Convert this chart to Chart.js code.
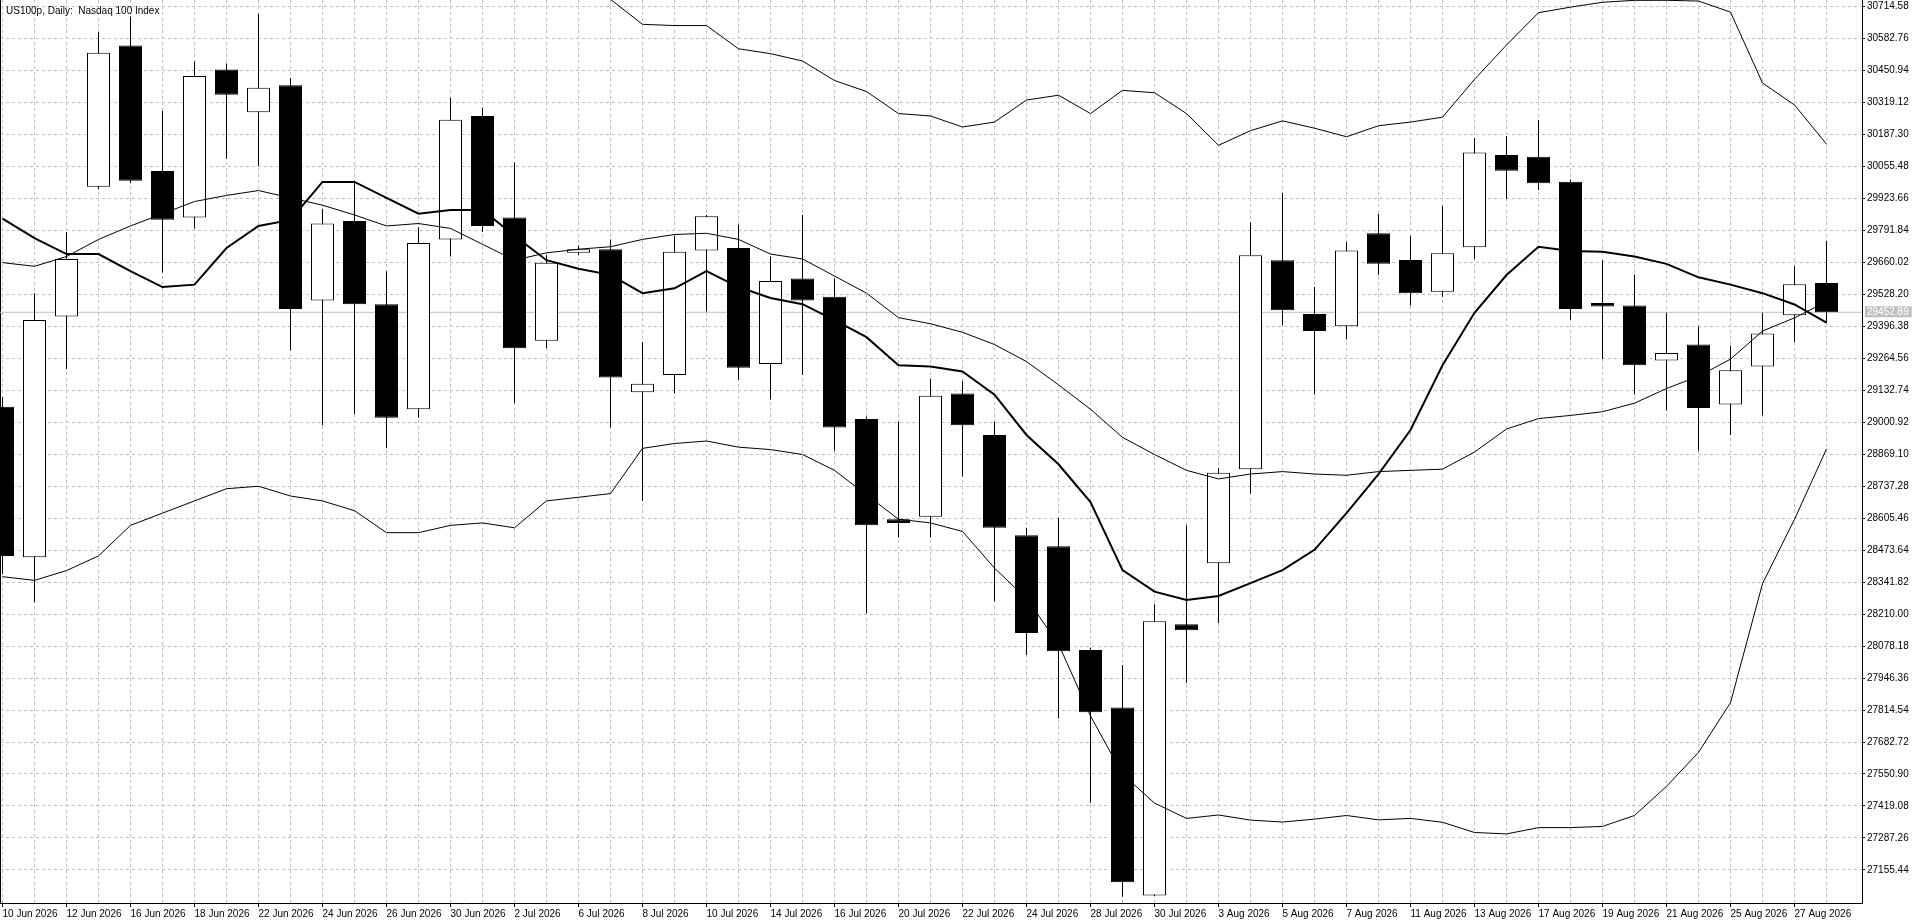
<!DOCTYPE html>
<html><head><meta charset="utf-8">
<script src="https://cdn.jsdelivr.net/npm/chart.js@4.4.1/dist/chart.umd.min.js"></script>
<style>
html,body{margin:0;padding:0;background:#fff;overflow:hidden;}
#wrap{position:relative;width:1920px;height:923px;}
#title{position:absolute;left:6px;top:4px;font:10px 'Liberation Sans',Arial,sans-serif;color:#000;white-space:pre;line-height:13px;}
canvas{display:block;}
</style></head><body>
<div id="wrap"><canvas id="c" width="1920" height="923"></canvas><div id="title">US100p, Daily:  Nasdaq 100 Index</div></div>
<script>
const dates = ["10 Jun 2026","11 Jun 2026","12 Jun 2026","15 Jun 2026","16 Jun 2026","17 Jun 2026","18 Jun 2026","19 Jun 2026","22 Jun 2026","23 Jun 2026",
"24 Jun 2026","25 Jun 2026","26 Jun 2026","29 Jun 2026","30 Jun 2026","1 Jul 2026","2 Jul 2026","3 Jul 2026","6 Jul 2026","7 Jul 2026",
"8 Jul 2026","9 Jul 2026","10 Jul 2026","13 Jul 2026","14 Jul 2026","15 Jul 2026","16 Jul 2026","17 Jul 2026","20 Jul 2026","21 Jul 2026",
"22 Jul 2026","23 Jul 2026","24 Jul 2026","27 Jul 2026","28 Jul 2026","29 Jul 2026","30 Jul 2026","31 Jul 2026","3 Aug 2026","4 Aug 2026",
"5 Aug 2026","6 Aug 2026","7 Aug 2026","10 Aug 2026","11 Aug 2026","12 Aug 2026","13 Aug 2026","14 Aug 2026","17 Aug 2026","18 Aug 2026",
"19 Aug 2026","20 Aug 2026","21 Aug 2026","24 Aug 2026","25 Aug 2026","26 Aug 2026","27 Aug 2026","28 Aug 2026"];

const open = [29063.4,28444.2,29435.9,29969.5,30551.5,30035.0,29843.7,30453.3,30276.6,30387.9,
29501.4,29828.6,29486.3,29053.4,29753.1,30261.5,29843.7,29335.3,29697.7,29712.8,
29123.8,29194.3,29707.8,29717.8,29239.6,29592.0,29516.5,29013.1,28600.3,28610.4,
29118.8,28947.6,28534.9,28489.6,28061.7,27825.0,27050.0,28168.0,28419.0,28806.7,
29667.5,29446.0,29395.7,29778.3,29668.3,29537.7,29720.6,30100.8,30093.8,29990.8,
29491.3,29481.2,29254.7,29320.1,29073.5,29229.6,29440.5,29573.5];

const high = [29103.7,29531.6,29783.3,30607.4,30671.8,30281.7,30486.0,30478.0,30682.4,30417.6,
29878.9,29994.7,29622.2,29803.4,30337.0,30296.8,30070.2,29687.6,29727.9,29753.1,
29330.2,29768.2,29853.8,29813.5,29682.6,29853.8,29592.0,29023.2,29003.0,29179.2,
29169.1,29003.0,28565.1,28605.3,28071.7,28000.0,28250.0,28575.1,28811.7,29823.6,
29944.4,29556.8,29743.0,29858.8,29768.2,29890.7,30170.9,30179.1,30245.0,30000.0,
29667.5,29607.1,29451.0,29395.7,29315.1,29451.0,29643.5,29746.6];

const low = [28373.8,28258.0,29219.5,29960.0,29984.6,29617.2,29798.4,30085.3,30055.1,29295.0,
28987.9,29033.2,28892.3,29018.1,29682.6,29783.3,29078.5,29305.1,29687.6,28977.9,
28675.8,29118.8,29456.1,29174.2,29093.6,29194.3,28882.2,28212.7,28524.8,28524.8,
28776.5,28263.0,28041.5,27779.8,27432.4,27045.5,27048.0,27927.0,28171.7,28706.0,
29400.7,29113.7,29340.3,29607.1,29481.2,29516.5,29672.4,29919.6,29956.6,29420.8,
29259.7,29113.7,29048.3,28882.2,28947.6,29028.2,29330.2,29407.5];

const close = [28449.2,29420.8,29672.5,30521.8,29994.7,29833.6,30426.1,30348.6,30378.3,29466.2,
29818.5,29486.3,29018.1,29738.0,30246.4,29808.5,29305.1,29657.4,29712.8,29184.2,
29159.0,29702.7,29848.7,29224.5,29581.9,29501.4,28977.9,28575.1,28585.2,29108.7,
28988.0,28565.1,28132.2,28056.6,27805.0,27105.0,28180.0,28143.0,28791.6,29687.6,
29461.1,29375.5,29707.8,29652.4,29531.1,29695.9,30110.6,30036.1,29984.2,29466.4,
29476.2,29234.6,29284.9,29058.4,29214.4,29365.5,29568.2,29452.89];

const maFast = [29838.7,29758.1,29692.7,29692.7,29622.2,29556.8,29566.8,29717.8,29808.5,29833.6,
29989.7,29989.7,29924.3,29858.8,29873.9,29873.9,29768.2,29667.5,29632.2,29607.1,
29531.6,29551.6,29622.2,29556.8,29511.5,29486.3,29420.8,29350.4,29234.6,29229.6,
29209.4,29113.7,28947.6,28826.8,28670.7,28391.0,28302.0,28268.0,28284.0,28337.0,
28391.0,28474.5,28625.5,28786.6,28967.8,29234.6,29451.0,29606.5,29723.0,29705.3,
29702.7,29682.6,29652.4,29597.0,29566.8,29531.6,29485.0,29410.0];

const bbUpper = [30950,30960,30980,31010,31050,31090,31110,31130,31160,31150,
31110,31070,31070,31050,31020,30960,30860,30800,30770,30742,
30639.1,30634.0,30634.0,30538.4,30518.3,30488.0,30407.5,30362.2,30271.6,30261.5,
30216.2,30236.4,30327.1,30347.1,30271.6,30367.2,30357.2,30271.6,30140.7,30201.1,
30241.4,30211.2,30176.0,30221.3,30236.4,30256.5,30412.5,30553.9,30687.0,30710.0,
30730.0,30738.0,30738.0,30735.0,30689.4,30397.4,30306.8,30145.7];

const bbMid = [29657.4,29642.3,29682.6,29753.1,29808.5,29858.8,29909.1,29934.3,29954.4,29924.3,
29894.0,29853.8,29808.5,29818.5,29798.4,29733.0,29667.5,29697.7,29712.8,29722.9,
29753.1,29773.2,29778.3,29753.1,29692.7,29672.5,29602.1,29531.6,29430.9,29405.7,
29370.5,29320.1,29249.7,29154.0,29053.4,28937.6,28867.1,28801.7,28766.4,28786.6,
28796.6,28786.6,28781.5,28796.6,28801.7,28806.7,28877.2,28972.0,29015.0,29028.0,
29043.3,29078.5,29138.9,29189.2,29259.8,29375.6,29430.0,29497.0];

const bbLower = [28363.7,28348.6,28388.9,28449.2,28575.1,28625.5,28675.8,28726.1,28736.2,28696.0,
28675.8,28635.5,28545.0,28545.0,28575.1,28585.2,28565.1,28675.8,28690.9,28706.0,
28892.3,28912.4,28922.5,28897.3,28887.3,28867.1,28801.7,28701.0,28600.3,28585.2,
28550.0,28399.0,28273.1,28086.9,27790.0,27550.0,27431.0,27368.0,27382.0,27361.0,
27353.0,27365.0,27380.0,27362.0,27368.0,27352.0,27310.0,27304.0,27330.0,27330.0,
27335.0,27380.0,27500.0,27640.0,27845.0,28335.0,28600.0,28890.0];

const yTicks = [27155.44,27287.26,27419.08,27550.90,27682.72,27814.54,27946.36,28078.18,28210.00,28341.82,
28473.64,28605.46,28737.28,28869.10,29000.92,29132.74,29264.56,29396.38,29528.20,29660.02,
29791.84,29923.66,30055.48,30187.30,30319.12,30450.94,30582.76,30714.58];

const lastPrice = 29452.89;

const yMin = 27019.5, yMax = 30739.3;
const xMin = -0.078125, xMax = 58.109375;

const FONT = "'Liberation Sans', Arial, sans-serif";
const GRID = '#c0c0c0';
const idx = dates.map((d, i) => i);
const xy = arr => arr.map((v, i) => ({x: i, y: v}));
const isPrice = c => c.tick && Math.abs(c.tick.value - lastPrice) < 1e-6;

new Chart(document.getElementById('c'), {
  type: 'line',
  data: {
    datasets: [
      {type: 'line', label: 'MA', data: xy(maFast), borderColor: '#000', borderWidth: 2, pointRadius: 0, tension: 0, order: 0, yAxisID: 'y'},
      {type: 'line', label: 'BB upper', data: xy(bbUpper), borderColor: '#000', borderWidth: 1, pointRadius: 0, tension: 0, order: 1, yAxisID: 'y'},
      {type: 'line', label: 'BB middle', data: xy(bbMid), borderColor: '#000', borderWidth: 1, pointRadius: 0, tension: 0, order: 1, yAxisID: 'y'},
      {type: 'line', label: 'BB lower', data: xy(bbLower), borderColor: '#000', borderWidth: 1, pointRadius: 0, tension: 0, order: 1, yAxisID: 'y'},
      {type: 'bar', label: 'body', data: idx.map(i => ({x: i, y: [open[i], close[i]]})),
        backgroundColor: idx.map(i => close[i] < open[i] ? '#000' : '#fff'),
        borderColor: '#000', borderWidth: 1, borderSkipped: false, barThickness: 23,
        grouped: false, inflateAmount: 0, order: 2, yAxisID: 'y'},
      {type: 'bar', label: 'wick', data: idx.map(i => ({x: i, y: [low[i], high[i]]})),
        backgroundColor: '#000', borderWidth: 0, barThickness: 1,
        grouped: false, inflateAmount: 0, order: 3, yAxisID: 'y'},
      {type: 'line', label: 'price', data: [{x: -1, y: lastPrice}, {x: 60, y: lastPrice}],
        borderColor: GRID, borderWidth: 1, pointRadius: 0, order: 4, yAxisID: 'y'}
    ]
  },
  options: {
    responsive: false,
    animation: false,
    events: [],
    layout: {padding: 0, autoPadding: false},
    plugins: {legend: {display: false}, tooltip: {enabled: false}, title: {display: false}},
    scales: {
      x: {
        type: 'linear', position: 'bottom', min: xMin, max: xMax, offset: false,
        afterBuildTicks: s => { s.ticks = idx.map(i => ({value: i})); },
        afterFit: s => { s.height = 20; s.paddingLeft = 0; s.paddingRight = 0; },
        grid: {display: true, offset: false, color: GRID, lineWidth: 1, drawTicks: true, tickLength: 4, tickWidth: 1,
          tickColor: c => (c.index % 2 === 0 ? '#000' : 'rgba(0,0,0,0)')},
        border: {display: true, color: '#000', width: 1, dash: [3, 3]},
        ticks: {autoSkip: false, maxRotation: 0, minRotation: 0, align: 'start', padding: 1, color: '#000',
          font: {family: FONT, size: 10},
          callback: v => (v % 2 === 0 && dates[v]) ? dates[v] : ''}
      },
      y: {
        type: 'linear', position: 'right', min: yMin, max: yMax,
        afterBuildTicks: s => { s.ticks = yTicks.concat([lastPrice]).sort((a, b) => a - b).map(v => ({value: v})); },
        afterFit: s => { s.width = 58; s.paddingTop = 0; s.paddingBottom = 0; },
        grid: {display: true, color: c => isPrice(c) ? 'rgba(0,0,0,0)' : GRID, lineWidth: 1, drawTicks: true, tickLength: 3, tickWidth: 1,
          tickColor: c => isPrice(c) ? 'rgba(0,0,0,0)' : '#000'},
        border: {display: true, color: '#000', width: 1, dash: [3, 3]},
        ticks: {autoSkip: false, padding: 2, font: {family: FONT, size: 10},
          color: c => isPrice(c) ? '#fff' : '#000',
          showLabelBackdrop: c => isPrice(c),
          backdropColor: GRID,
          backdropPadding: {left: 2, right: 3, top: 0, bottom: -1},
          callback: v => Number(v).toFixed(2)}
      },
      yl: {
        type: 'linear', position: 'left', min: 0, max: 1, display: true,
        afterFit: s => { s.width = 0; s.paddingTop = 0; s.paddingBottom = 0; },
        grid: {display: true, drawOnChartArea: false, drawTicks: false},
        border: {display: true, color: '#000', width: 1},
        ticks: {display: false}
      }
    }
  }
});
</script>
</body></html>
